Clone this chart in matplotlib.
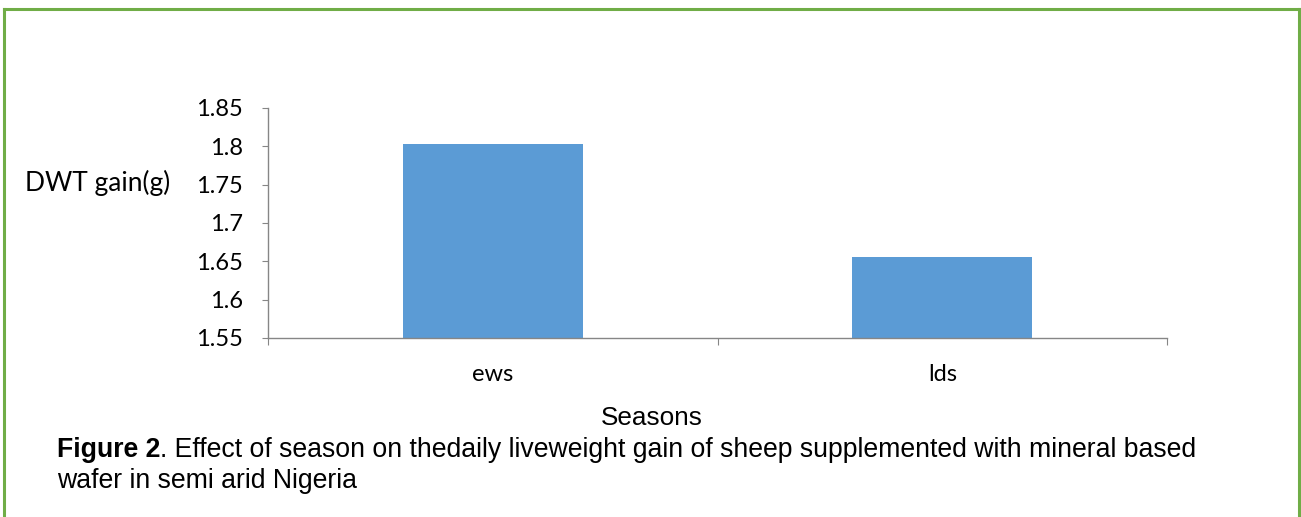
import matplotlib.pyplot as plt
from matplotlib.lines import Line2D

seasons = ["ews", "lds"]
dwt_gain = [1.803, 1.656]
y_ticks = [1.55, 1.6, 1.65, 1.7, 1.75, 1.8, 1.85]
y_tick_labels = ["1.55", "1.6", "1.65", "1.7", "1.75", "1.8", "1.85"]

W, H = 1301, 517
fig = plt.figure(figsize=(W / 100, H / 100), dpi=100)

# axes box in pixel terms: x 268..1167, y 108..338 (from top)
ax = fig.add_axes([268 / W, 1 - 338 / H, (1167 - 268) / W, (338 - 108) / H])
positions = list(range(len(seasons)))
ax.bar(positions, dwt_gain, width=0.4, color="#5B9BD5")
ax.set_xlim(-0.5, len(seasons) - 0.5)
ax.set_ylim(1.55, 1.85)

grey = "#868686"
for side in ["top", "right"]:
    ax.spines[side].set_visible(False)
for side in ["left", "bottom"]:
    ax.spines[side].set_color(grey)
    ax.spines[side].set_linewidth(1)

ax.set_yticks(y_ticks)
ax.set_yticklabels(y_tick_labels, fontfamily="Lato", fontsize=17)
ax.tick_params(axis="y", length=4.3, color=grey, pad=13.7)

# category ticks between/around bars, labels centred on bars
ax.set_xticks([-0.5, 0.5, 1.5])
ax.set_xticklabels([])
ax.tick_params(axis="x", length=5, color=grey)
ax.set_xticks(positions, minor=True)
ax.set_xticklabels(seasons, minor=True, fontfamily="Lato", fontsize=17)
ax.tick_params(axis="x", which="minor", length=0, pad=19)

fig.text(25 / W, 1 - 183 / H, "DWT gain(g)", fontfamily="Lato", fontsize=19,
         ha="left", va="center")
fig.text(652 / W, 1 - 418 / H, "Seasons", fontfamily="Liberation Sans", fontsize=18.8,
         ha="center", va="center")

cap1 = fig.text(57 / W, 1 - 450 / H, "Figure 2", fontfamily="Liberation Sans",
                fontweight="bold", fontsize=19.2, ha="left", va="center")
fig.canvas.draw()
bb = cap1.get_window_extent()
fig.text(bb.x1 / W, 1 - 450 / H,
         ". Effect of season on thedaily liveweight gain of sheep supplemented with mineral based",
         fontfamily="Liberation Sans", fontsize=19.2, ha="left", va="center")
fig.text(57 / W, 1 - 481 / H, "wafer in semi arid Nigeria",
         fontfamily="Liberation Sans", fontsize=19.2, ha="left", va="center")

# green frame
green = "#70AD47"
frame = dict(color=green, linewidth=2.2, transform=fig.transFigure)
fig.lines.append(Line2D([4 / W, 4 / W], [0, 1 - 9 / H], **frame))
fig.lines.append(Line2D([1299 / W, 1299 / W], [0, 1 - 9 / H], **frame))
fig.lines.append(Line2D([4 / W, 1299 / W], [1 - 9 / H, 1 - 9 / H], **frame))

fig.savefig("out.png", dpi=100)
